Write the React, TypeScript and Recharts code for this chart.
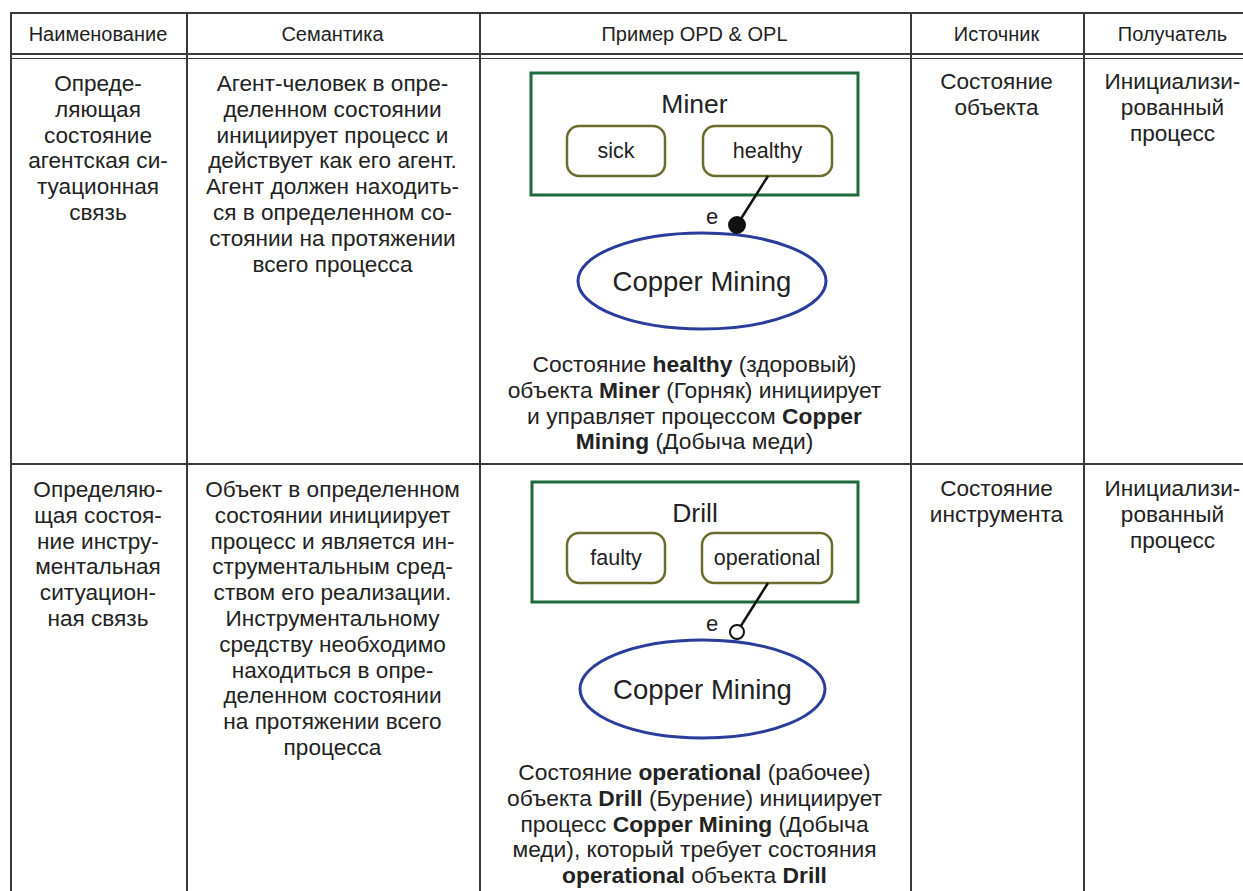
import React from 'react';
import { ScatterChart, Scatter, XAxis, YAxis, ReferenceArea } from 'recharts';

const FONT = '"Liberation Sans", Arial, Helvetica, sans-serif';
const INK = '#222';
const GRID = '#3a3a3a';

// table text
const headers = ['Наименование', 'Семантика', 'Пример OPD & OPL', 'Источник', 'Получатель'];

const nameRow1 = ['Опреде-', 'ляющая', 'состояние', 'агентская си-', 'туационная', 'связь'];
const semanticsRow1 = [
  'Агент-человек в опре-',
  'деленном состоянии',
  'инициирует процесс и',
  'действует как его агент.',
  'Агент должен находить-',
  'ся в определенном со-',
  'стоянии на протяжении',
  'всего процесса',
];
const sourceRow1 = ['Состояние', 'объекта'];
const targetRow1 = ['Инициализи-', 'рованный', 'процесс'];
const oplRow1 = [
  'Состояние **healthy** (здоровый)',
  'объекта **Miner** (Горняк) инициирует',
  'и управляет процессом **Copper**',
  '**Mining** (Добыча меди)',
];

const nameRow2 = ['Определяю-', 'щая состоя-', 'ние инстру-', 'ментальная', 'ситуацион-', 'ная связь'];
const semanticsRow2 = [
  'Объект в определенном',
  'состоянии инициирует',
  'процесс и является ин-',
  'струментальным сред-',
  'ством его реализации.',
  'Инструментальному',
  'средству необходимо',
  'находиться в опре-',
  'деленном состоянии',
  'на протяжении всего',
  'процесса',
];
const sourceRow2 = ['Состояние', 'инструмента'];
const targetRow2 = ['Инициализи-', 'рованный', 'процесс'];
const oplRow2 = [
  'Состояние **operational** (рабочее)',
  'объекта **Drill** (Бурение) инициирует',
  'процесс **Copper Mining** (Добыча',
  'меди), который требует состояния',
  '**operational** объекта **Drill**',
];

// OPD diagrams, in diagram units
const diagramObjects = [
  { name: 'Miner', x1: 52, x2: 379, y1: 14, y2: 136 },
  { name: 'Drill', x1: 53, x2: 379, y1: 18, y2: 138 },
];
const diagramStates = [
  [
    { name: 'sick', x1: 88, x2: 186, y1: 67, y2: 117 },
    { name: 'healthy', x1: 224, x2: 353, y1: 67, y2: 117 },
  ],
  [
    { name: 'faulty', x1: 88, x2: 186, y1: 69, y2: 119 },
    { name: 'operational', x1: 223, x2: 353, y1: 69, y2: 119 },
  ],
];
const diagramProcesses = [
  { name: 'Copper Mining', x1: 99, x2: 347, y1: 174, y2: 270 },
  { name: 'Copper Mining', x1: 101, x2: 346, y1: 176, y2: 274 },
];
const diagramLinks = [
  [
    { x: 289, y: 117, end: false, filled: true, tag: '' },
    { x: 258, y: 166, end: true, filled: true, tag: 'e' },
  ],
  [
    { x: 289, y: 119, end: false, filled: false, tag: '' },
    { x: 258, y: 168, end: true, filled: false, tag: 'e' },
  ],
];

const colX = [10, 186, 479, 910, 1083, 1262];
const LINE_H = 25.8;

function Lines({ lines, left, right, top, size = 22.6 }: { lines: string[]; left: number; right: number; top: number; size?: number }) {
  return (
    <div style={{ position: 'absolute', left, width: right - left, top: top - LINE_H / 2, textAlign: 'center', fontSize: size, lineHeight: `${LINE_H}px`, color: INK, whiteSpace: 'nowrap' }}>
      {lines.map((l, i) => {
        const parts = l.split('**');
        return (
          <div key={i}>
            {parts.map((p, j) => (j % 2 === 1 ? <b key={j}>{p}</b> : <span key={j}>{p}</span>))}
          </div>
        );
      })}
    </div>
  );
}

function Diagram({ index }: { index: number }) {
  const obj = diagramObjects[index];
  const proc = diagramProcesses[index];
  const link = diagramLinks[index];
  return (
    <ScatterChart width={431} height={290} margin={{ top: 0, right: 0, bottom: 0, left: 0 }}>
      <XAxis type="number" dataKey="x" domain={[0, 431]} hide />
      <YAxis type="number" dataKey="y" domain={[0, 290]} reversed hide />
      <ReferenceArea
        x1={obj.x1} x2={obj.x2} y1={obj.y1} y2={obj.y2}
        ifOverflow="visible"
        shape={(p: any) => (
          <g>
            <rect x={p.x} y={p.y} width={p.width} height={p.height} fill="none" stroke="#1d6b3a" strokeWidth={3} />
            <text x={p.x + p.width / 2} y={p.y + 31} textAnchor="middle" dominantBaseline="central" fontSize={26.5} fill={INK} fontFamily={FONT}>{obj.name}</text>
          </g>
        )}
      />
      {diagramStates[index].map((s) => (
        <ReferenceArea
          key={s.name}
          x1={s.x1} x2={s.x2} y1={s.y1} y2={s.y2}
          ifOverflow="visible"
          shape={(p: any) => (
            <g>
              <rect x={p.x} y={p.y} width={p.width} height={p.height} rx={12} ry={12} fill="#fff" stroke="#6b6b2c" strokeWidth={2.5} />
              <text x={p.x + p.width / 2} y={p.y + p.height / 2} textAnchor="middle" dominantBaseline="central" fontSize={21.5} fill={INK} fontFamily={FONT}>{s.name}</text>
            </g>
          )}
        />
      ))}
      <ReferenceArea
        x1={proc.x1} x2={proc.x2} y1={proc.y1} y2={proc.y2}
        ifOverflow="visible"
        shape={(p: any) => (
          <g>
            <ellipse cx={p.x + p.width / 2} cy={p.y + p.height / 2} rx={p.width / 2} ry={p.height / 2} fill="#fff" stroke="#2b3d9b" strokeWidth={3} />
            <text x={p.x + p.width / 2} y={p.y + p.height / 2} textAnchor="middle" dominantBaseline="central" fontSize={27.5} fill={INK} fontFamily={FONT}>{proc.name}</text>
          </g>
        )}
      />
      <Scatter
        data={link}
        isAnimationActive={false}
        line={{ stroke: '#111', strokeWidth: 2.5 }}
        shape={(p: any) =>
          p.payload.end ? (
            <g>
              <circle cx={p.cx} cy={p.cy} r={p.payload.filled ? 8 : 7} fill={p.payload.filled ? '#111' : '#fff'} stroke="#111" strokeWidth={2} />
              <text x={p.cx - 25} y={p.cy - 9} textAnchor="middle" dominantBaseline="central" fontSize={22} fill={INK} fontFamily={FONT}>{p.payload.tag}</text>
            </g>
          ) : (
            <g />
          )
        }
      />
    </ScatterChart>
  );
}

export default function App() {
  const hLine = (y: number, h = 1.5) => (
    <div key={`h${y}`} style={{ position: 'absolute', left: colX[0], width: 1243 - colX[0], top: y, height: h, background: GRID }} />
  );
  const vLine = (x: number) => (
    <div key={`v${x}`} style={{ position: 'absolute', left: x, width: 1.5, top: 12, height: 891 - 12, background: GRID }} />
  );
  const mid = (i: number) => [colX[i], colX[i + 1]] as const;
  return (
    <div style={{ position: 'absolute', left: 0, top: 0, width: 1243, height: 891, overflow: 'hidden', background: '#fff', fontFamily: FONT }}>
      {hLine(12)}
      {hLine(53)}
      {hLine(58, 1.2)}
      {hLine(463)}
      {colX.slice(0, 5).map(vLine)}

      {headers.map((h, i) => (
        <Lines key={h} lines={[h]} left={mid(i)[0]} right={mid(i)[1]} top={35} size={20} />
      ))}

      <Lines lines={nameRow1} left={colX[0]} right={colX[1]} top={84} />
      <Lines lines={semanticsRow1} left={colX[1]} right={colX[2]} top={84} />
      <Lines lines={sourceRow1} left={colX[3]} right={colX[4]} top={82} />
      <Lines lines={targetRow1} left={colX[4]} right={colX[5]} top={82} />
      <div style={{ position: 'absolute', left: colX[2], top: 59 }}>
        <Diagram index={0} />
      </div>
      <Lines lines={oplRow1} left={colX[2]} right={colX[3]} top={365} size={22.8} />

      <Lines lines={nameRow2} left={colX[0]} right={colX[1]} top={490} />
      <Lines lines={semanticsRow2} left={colX[1]} right={colX[2]} top={490} />
      <Lines lines={sourceRow2} left={colX[3]} right={colX[4]} top={489} />
      <Lines lines={targetRow2} left={colX[4]} right={colX[5]} top={489} />
      <div style={{ position: 'absolute', left: colX[2], top: 464 }}>
        <Diagram index={1} />
      </div>
      <Lines lines={oplRow2} left={colX[2]} right={colX[3]} top={773} size={22.8} />
    </div>
  );
}
